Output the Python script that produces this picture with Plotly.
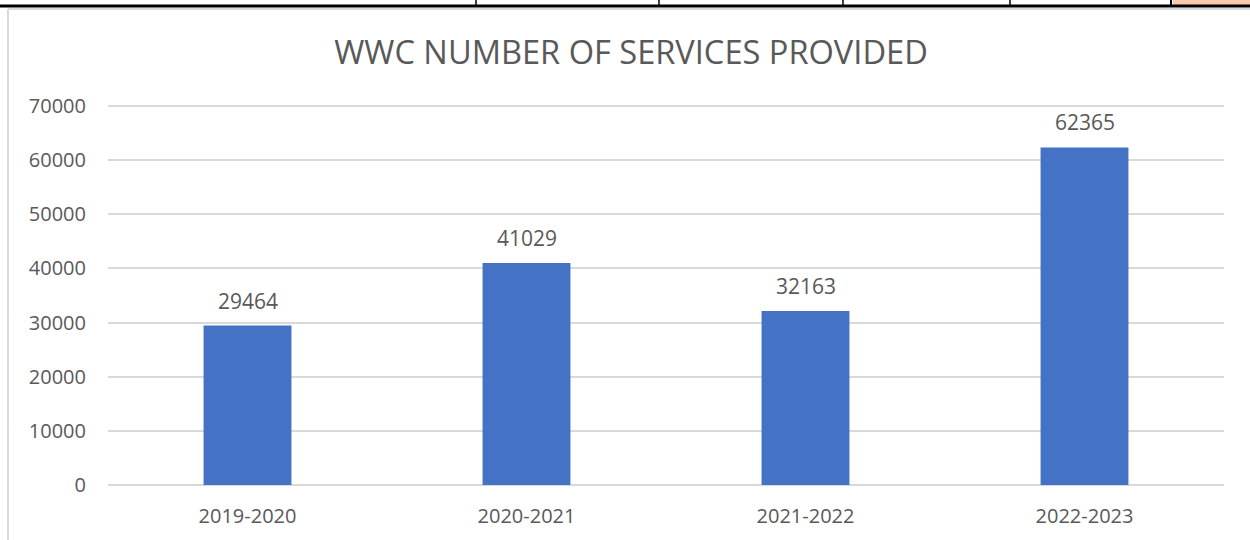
import plotly.graph_objects as go

categories = ["2019-2020", "2020-2021", "2021-2022", "2022-2023"]
services = [29464, 41029, 32163, 62365]
y_ticks = [0, 10000, 20000, 30000, 40000, 50000, 60000, 70000]

W, H = 1250, 540
L, R, T, B = 108, 26, 105, 55
PW, PH = W - L - R, H - T - B
Y_MAX = 70200

def px(x):
    return (x - L) / PW

def py(y):
    return (H - B - y) / PH

fig = go.Figure()
fig.add_trace(go.Bar(
    x=categories, y=services,
    marker=dict(color="#4472C4", line=dict(width=0)),
    width=0.315,
    hoverinfo="x+y",
))

annotations = [
    dict(x=c, y=v, xref="x", yref="y", text=str(v), showarrow=False,
         yanchor="middle", yshift=25, font=dict(size=21, color="#595959", family="Open Sans"))
    for c, v in zip(categories, services)
]

shapes = []
# spreadsheet artifacts at top
shapes.append(dict(type="rect", xref="paper", yref="paper", x0=px(1173), x1=px(1250), y0=py(6), y1=py(0),
                   fillcolor="#F8CBAD", line=dict(width=0), layer="above"))
shapes.append(dict(type="rect", xref="paper", yref="paper", x0=px(0), x1=px(1250), y0=py(7.5), y1=py(4.5),
                   fillcolor="black", line=dict(width=0), layer="above"))
for xv in [476, 659, 843, 1010]:
    shapes.append(dict(type="line", xref="paper", yref="paper", x0=px(xv), x1=px(xv), y0=py(0), y1=py(5),
                       line=dict(color="black", width=1.5), layer="above"))
shapes.append(dict(type="line", xref="paper", yref="paper", x0=px(1171), x1=px(1171), y0=py(0), y1=py(5),
                   line=dict(color="black", width=2), layer="above"))
# chart border
shapes.append(dict(type="line", xref="paper", yref="paper", x0=px(8), x1=px(1250), y0=py(9), y1=py(9),
                   line=dict(color="#D9D9D9", width=2), layer="above"))
shapes.append(dict(type="line", xref="paper", yref="paper", x0=px(8), x1=px(8), y0=py(9), y1=py(540),
                   line=dict(color="#D9D9D9", width=2), layer="above"))

fig.update_layout(
    width=W, height=H,
    margin=dict(l=L, r=R, t=T, b=B),
    paper_bgcolor="white", plot_bgcolor="white",
    title=dict(text="WWC NUMBER OF SERVICES PROVIDED", x=631 / W, xanchor="center",
               y=1 - 53 / H, yanchor="middle",
               font=dict(size=32.6, color="#595959", family="Open Sans")),
    xaxis=dict(showgrid=False, showline=False, ticks="", ticklabelstandoff=17,
               tickfont=dict(size=20, color="#595959", family="Open Sans")),
    yaxis=dict(range=[0, Y_MAX], tickvals=y_ticks, ticktext=[str(v) for v in y_ticks],
               showgrid=True, gridcolor="#D9D9D9", gridwidth=1.5, zeroline=True, zerolinecolor="#D9D9D9",
               zerolinewidth=1.5, showline=False, ticks="", ticklabelstandoff=21,
               tickfont=dict(size=20, color="#595959", family="Open Sans")),
    bargap=0.685,
    showlegend=False,
    shapes=shapes,
    annotations=annotations,
)

fig.write_html("out.html")
